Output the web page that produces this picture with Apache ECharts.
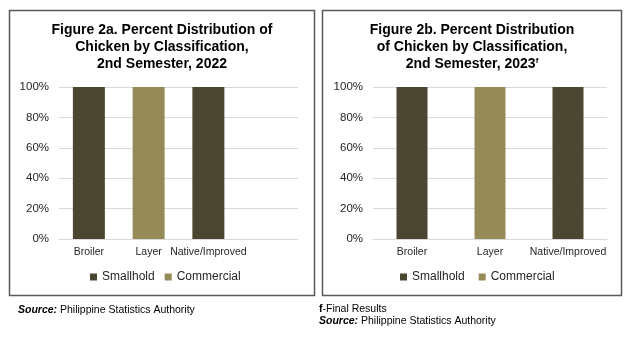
<!DOCTYPE html>
<html>
<head>
<meta charset="utf-8">
<script src="https://cdn.jsdelivr.net/npm/echarts@6/dist/echarts.min.js"></script>
<style>
html,body{margin:0;padding:0;background:#fff;}
#c{width:632px;height:343px;}
</style>
</head>
<body>
<div id="c"></div>
<script>
// ---- data ----
const categoriesA = ['Broiler', 'Layer', 'Native/Improved', ''];
const smallholdA = [100, 0, 100, null];
const commercialA = [0, 100, 0, null];

const categoriesB = ['Broiler', 'Layer', 'Native/Improved'];
const smallholdB = [100, 0, 100];
const commercialB = [0, 100, 0];

const seriesNames = ['Smallhold', 'Commercial'];
const titleA = 'Figure 2a. Percent Distribution of\nChicken by Classification,\n2nd Semester, 2022';
const titleB = 'Figure 2b. Percent Distribution\nof Chicken by Classification,\n2nd Semester, 2023{sup|f}';
const yMin = 0, yMax = 100, yStep = 20;

// ---- style ----
const FONT = '"Liberation Sans", Arial, sans-serif';
const DARK = '#4b4631';
const LIGHT = '#958b59';
const GRIDC = '#d9d9d9';
const TXT = '#262626';

const chart = echarts.init(document.getElementById('c'), null, {renderer: 'canvas'});

function yAxis(gi) {
  return {
    type: 'value', gridIndex: gi, min: yMin, max: yMax, interval: yStep,
    axisLabel: {formatter: '{value}%', fontFamily: FONT, fontSize: 11.5, color: TXT, margin: 10},
    axisLine: {show: false}, axisTick: {show: false},
    splitLine: {lineStyle: {color: GRIDC, width: 1}}
  };
}
function xAxis(gi, cats) {
  return {
    type: 'category', gridIndex: gi, data: cats,
    axisLabel: {fontFamily: FONT, fontSize: 10.5, color: TXT, margin: 8, interval: 0},
    axisLine: {lineStyle: {color: GRIDC, width: 1}}, axisTick: {show: false}
  };
}
const titleStyle = {
  fontFamily: FONT, fontSize: 14, fontWeight: 'bold', color: '#000', lineHeight: 17, align: 'center',
  rich: {sup: {fontFamily: FONT, fontSize: 8, fontWeight: 'bold', color: '#000', lineHeight: 17, padding: [0, 0, 8, 0]}}
};

const option = {
  animation: false,
  backgroundColor: '#fff',
  title: [
    {text: titleA, left: 162, top: 22, textAlign: 'center', textStyle: titleStyle, padding: 0},
    {text: titleB, left: 472, top: 22, textAlign: 'center', textStyle: titleStyle, padding: 0}
  ],
  legend: [
    {data: seriesNames, left: 90, top: 271, itemWidth: 7, itemHeight: 7, itemGap: 10, icon: 'rect', padding: 0,
     textStyle: {fontFamily: FONT, fontSize: 12, color: TXT}},
    {data: seriesNames, left: 400, top: 271, itemWidth: 7, itemHeight: 7, itemGap: 14, icon: 'rect', padding: 0,
     textStyle: {fontFamily: FONT, fontSize: 12, color: TXT}}
  ],
  grid: [
    {left: 59, top: 87, width: 239, height: 152},
    {left: 373, top: 87, width: 234, height: 152}
  ],
  xAxis: [xAxis(0, categoriesA), xAxis(1, categoriesB)],
  yAxis: [yAxis(0), yAxis(1)],
  series: [
    {name: seriesNames[0], type: 'bar', stack: 'a', xAxisIndex: 0, yAxisIndex: 0, data: smallholdA, barWidth: 32, itemStyle: {color: DARK}},
    {name: seriesNames[1], type: 'bar', stack: 'a', xAxisIndex: 0, yAxisIndex: 0, data: commercialA, barWidth: 32, itemStyle: {color: LIGHT}},
    {name: seriesNames[0], type: 'bar', stack: 'b', xAxisIndex: 1, yAxisIndex: 1, data: smallholdB, barWidth: 31, itemStyle: {color: DARK}},
    {name: seriesNames[1], type: 'bar', stack: 'b', xAxisIndex: 1, yAxisIndex: 1, data: commercialB, barWidth: 31, itemStyle: {color: LIGHT}}
  ],
  graphic: [
    {type: 'rect', shape: {x: 9.5, y: 10.5, width: 305, height: 285}, style: {fill: 'none', stroke: '#595959', lineWidth: 1.5}, silent: true},
    {type: 'rect', shape: {x: 322.5, y: 10.5, width: 299, height: 285}, style: {fill: 'none', stroke: '#595959', lineWidth: 1.5}, silent: true},
    {type: 'text', left: 18, top: 305, style: {
      text: '{b|Source:} Philippine Statistics Authority', font: '10.5px ' + FONT, fill: '#000',
      rich: {b: {fontStyle: 'italic', fontWeight: 'bold', fontFamily: FONT, fontSize: 10.5, fill: '#000'}}}},
    {type: 'text', left: 319, top: 304, style: {
      text: '{b|f}-Final Results', font: '10.5px ' + FONT, fill: '#000',
      rich: {b: {fontWeight: 'bold', fontFamily: FONT, fontSize: 10.5, fill: '#000'}}}},
    {type: 'text', left: 319, top: 316, style: {
      text: '{b|Source:} Philippine Statistics Authority', font: '10.5px ' + FONT, fill: '#000',
      rich: {b: {fontStyle: 'italic', fontWeight: 'bold', fontFamily: FONT, fontSize: 10.5, fill: '#000'}}}}
  ]
};
chart.setOption(option);
</script>
</body>
</html>
